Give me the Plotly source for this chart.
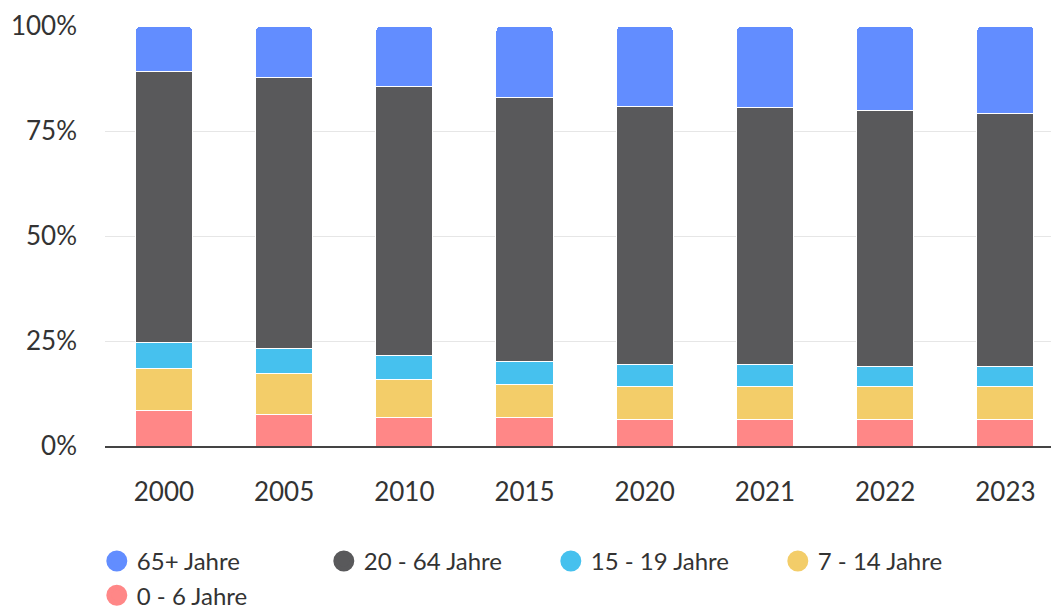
import plotly.graph_objects as go

years = ["2000", "2005", "2010", "2015", "2020", "2021", "2022", "2023"]
age_0_6 = [8.5, 7.6, 6.7, 6.7, 6.2, 6.2, 6.2, 6.2]
age_7_14 = [10.0, 9.6, 9.1, 7.9, 8.0, 8.0, 8.0, 8.0]
age_15_19 = [6.1, 6.1, 5.7, 5.6, 5.1, 5.1, 4.7, 4.7]
age_20_64 = [64.6, 64.5, 64.2, 62.8, 61.5, 61.2, 61.1, 60.2]
age_65 = [10.8, 12.2, 14.3, 17.0, 19.2, 19.5, 20.0, 20.9]

series = [
    ("0 - 6 Jahre", age_0_6, "#FF8787"),
    ("7 - 14 Jahre", age_7_14, "#F3CD69"),
    ("15 - 19 Jahre", age_15_19, "#46C1EE"),
    ("20 - 64 Jahre", age_20_64, "#59595B"),
    ("65+ Jahre", age_65, "#628DFF"),
]
legend_order = ["65+ Jahre", "20 - 64 Jahre", "15 - 19 Jahre", "7 - 14 Jahre", "0 - 6 Jahre"]

fig = go.Figure()
for name, vals, col in series:
    fig.add_trace(go.Bar(
        x=years, y=vals, name=name, showlegend=False,
        marker=dict(color=col, line=dict(color="white", width=1)),
        width=0.475,
    ))
colors = {n: c for n, _, c in series}
for name in legend_order:
    fig.add_trace(go.Scatter(
        x=[None], y=[None], mode="markers", name=name,
        marker=dict(color=colors[name], size=20, symbol="circle",
                    line=dict(color=colors[name], width=5)),
    ))

fig.update_layout(
    width=1051, height=604,
    margin=dict(l=97, r=0, t=18, b=166),
    barmode="stack", barcornerradius=5,
    plot_bgcolor="white", paper_bgcolor="white",
    font=dict(family="Lato", size=24, color="#333333"),
    xaxis=dict(
        type="category", range=[-0.49, 7.446], automargin=False,
        showline=True, linecolor="#444444", linewidth=2,
        showgrid=False, ticks="", ticklabelstandoff=22,
        tickfont=dict(size=26, color="#333333"),
    ),
    yaxis=dict(
        range=[0, 100], tickvals=[0, 25, 50, 75, 100], automargin=False,
        ticktext=["0%", "25%", "50%", "75%", "100%"],
        showgrid=True, gridcolor="#E6E6E6", gridwidth=1,
        zeroline=False, ticks="", ticklabelstandoff=27,
        tickfont=dict(size=26, color="#333333"),
    ),
    legend=dict(
        orientation="h", xref="container", x=0.0845, xanchor="left",
        yref="container", y=0.121, yanchor="top",
        font=dict(size=24, color="#333333"), entrywidth=182,
        traceorder="normal", itemsizing="trace",
    ),
)

fig.write_html("out.html")
